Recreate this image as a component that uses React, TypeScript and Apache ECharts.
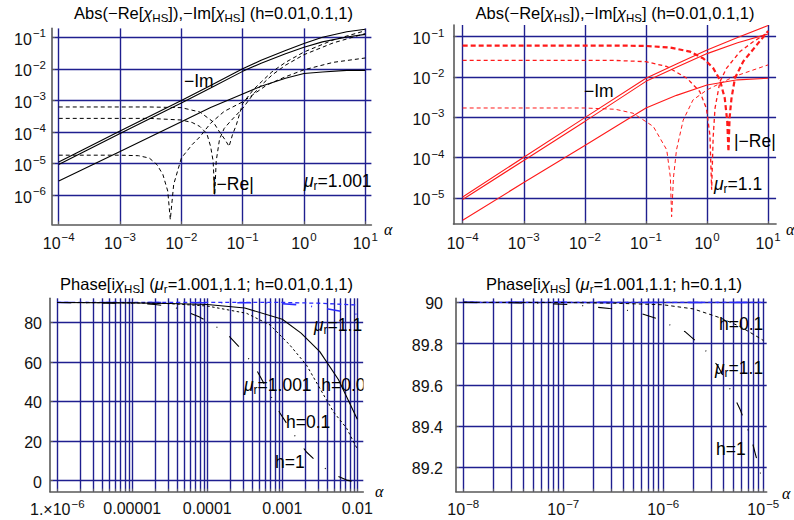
import React, { useEffect, useRef } from "react";
import * as echarts from "echarts";

const FONT = "'Liberation Sans', Arial, Helvetica, sans-serif";
const SERIF = "'Liberation Serif', 'DejaVu Serif', serif";
const GRID_C = "#1f1f8f";
const AXIS_C = "#5a5a5a";
const RED = "#ff1a1a";
const BLUE = "#2a2aff";
const BLACK = "#000000";

// ---------------- Panel 1 : mu_r = 1.001 (|-Re| dashed, -Im solid) ----------------
const p1ImAlpha = [1e-4, 1e-3, 1e-2, 3e-2, 0.1, 0.2, 0.5, 1, 2, 5, 10];
const p1ImA = [1.12e-5, 1.07e-4, 1.0e-3, 2.95e-3, 1.0e-2, 1.86e-2, 3.8e-2, 6.3e-2, 0.1, 0.148, 0.178];
const p1ImB = [9.3e-6, 8.9e-5, 8.3e-4, 2.45e-3, 8.3e-3, 1.51e-2, 3.0e-2, 4.8e-2, 7.1e-2, 0.102, 0.123];
const p1ImC = [2.8e-6, 2.4e-5, 2.1e-4, 6.0e-4, 1.6e-3, 2.8e-3, 5.0e-3, 7.1e-3, 7.9e-3, 8.9e-3, 8.9e-3];

const p1Re1Alpha = [1e-4, 3e-3, 1e-2, 2e-2, 3.3e-2, 4.2e-2, 5.2e-2, 6e-2, 6.8e-2, 7.9e-2, 0.1, 0.15, 0.2, 0.3, 0.5, 1, 3, 10];
const p1Re1 = [6.2e-4, 6.2e-4, 5.9e-4, 4.3e-4, 2.1e-4, 1.0e-4, 5.6e-5, 3.5e-5, 8e-5, 1.7e-4, 8e-4, 2.2e-3, 3.8e-3, 8e-3, 1.6e-2, 3.4e-2, 8.2e-2, 0.16];

const p1Re2Alpha = [1e-4, 3e-3, 1e-2, 1.5e-2, 2e-2, 2.6e-2, 3.0e-2, 3.3e-2, 3.5e-2, 3.7e-2, 4.2e-2, 5e-2, 6.2e-2, 0.1, 0.15, 0.2, 0.3, 0.5, 1, 3, 10];
const p1Re2 = [2.7e-4, 2.7e-4, 2.4e-4, 2.0e-4, 1.5e-4, 9e-5, 3.5e-5, 1.2e-5, 1.0e-6, 1.2e-5, 6e-5, 1.3e-4, 2.1e-4, 5.6e-4, 1.6e-3, 3.0e-3, 6.3e-3, 1.3e-2, 2.8e-2, 6.6e-2, 0.13];

const p1Re3Alpha = [1e-4, 1e-3, 2e-3, 3e-3, 4e-3, 5e-3, 6e-3, 6.6e-3, 7.5e-3, 1e-2, 1.5e-2, 2e-2, 3e-2, 5e-2, 0.1, 0.25, 0.5, 1, 3, 10];
const p1Re3 = [1.85e-5, 1.85e-5, 1.78e-5, 1.5e-5, 9.3e-6, 4.5e-6, 1.35e-6, 1.7e-7, 2.2e-6, 1.5e-5, 4e-5, 7e-5, 1.9e-4, 4.5e-4, 9e-4, 3.1e-3, 5.6e-3, 9.3e-3, 1.6e-2, 2.2e-2];

// ---------------- Panel 2 : mu_r = 1.1 ----------------
const p2ImAlpha = [1e-4, 1e-3, 1e-2, 0.1, 0.316, 1, 3.16, 10];
const p2ImA = [1.05e-5, 1.02e-4, 9.8e-4, 9.3e-3, 2.1e-2, 4.7e-2, 9.5e-2, 0.19];
const p2ImB = [9.1e-6, 8.5e-5, 7.9e-4, 7.8e-3, 1.74e-2, 3.8e-2, 7.1e-2, 0.117];
const p2ImC = [2.8e-6, 2.4e-5, 2.0e-4, 1.7e-3, 3.5e-3, 6.3e-3, 8.5e-3, 9.3e-3];

const p2Re1Alpha = [1e-4, 0.0316, 0.1, 0.251, 0.525, 0.871, 1.26, 1.62, 1.95, 2.14, 2.24, 2.34, 2.51, 2.86, 3.89, 6.46, 10];
const p2Re1 = [0.0603, 0.0603, 0.0589, 0.0537, 0.0427, 0.0288, 0.0166, 0.0085, 0.00295, 7.9e-4, 1.41e-4, 1e-3, 2.95e-3, 9.3e-3, 0.024, 0.0617, 0.138];

const p2Re2Alpha = [1e-4, 0.0316, 0.1, 0.219, 0.468, 0.759, 0.977, 1.114, 1.189, 1.259, 1.349, 1.622, 2.089, 3.467, 5.754, 9.44];
const p2Re2 = [0.0257, 0.0257, 0.024, 0.0182, 0.0093, 0.00437, 0.00166, 3.6e-4, 1.6e-5, 3.2e-4, 0.00166, 0.0076, 0.0166, 0.0427, 0.0759, 0.12];

const p2Re3Alpha = [1e-4, 0.01, 0.0316, 0.0617, 0.132, 0.219, 0.251, 0.263, 0.282, 0.316, 0.407, 0.589, 1, 2.75, 10];
const p2Re3 = [1.7e-3, 1.7e-3, 1.58e-3, 1.26e-3, 5.9e-4, 1.55e-4, 3.2e-5, 3.4e-6, 3.2e-5, 1.55e-4, 8.5e-4, 2.7e-3, 4.8e-3, 0.0102, 0.02];

// ---------------- Panel 3 : Phase, alpha 1e-6 .. 1e-2 ----------------
const p3SolidAlpha = [1e-6, 1e-5, 3.16e-5, 1e-4, 3.16e-4, 1e-3, 1.78e-3, 3.16e-3, 5.62e-3, 1e-2];
const p3Solid = [90, 89.8, 89.5, 89.0, 87.2, 81.5, 74.5, 65.2, 51, 31];
const p3DotAlpha = [1e-6, 1e-5, 3.16e-5, 1e-4, 3.35e-4, 6.9e-4, 1.26e-3, 2.1e-3, 3.16e-3, 4.8e-3, 7.2e-3, 1e-2];
const p3Dot = [90, 89.8, 89.4, 88.2, 84.5, 78.6, 68.5, 58.4, 46.7, 34.8, 26.5, 16];
const p3DashDotAlpha = [1e-6, 1e-5, 2e-5, 3.2e-5, 4.6e-5, 7.9e-5, 1.26e-4, 1.9e-4, 2.6e-4, 3.5e-4, 4.6e-4, 7.6e-4, 9.3e-4, 1.26e-3, 1.62e-3, 2.1e-3, 3.2e-3, 4.8e-3, 7.2e-3, 1e-2];
const p3DashDot = [90, 89.6, 89.0, 88.0, 86.4, 82.6, 78.3, 73.4, 68.0, 62.0, 55.5, 40.5, 34.2, 26.5, 20.2, 14.5, 8.0, 3.2, 0.3, -0.8];
const p3BlueDashAlpha = [1e-6, 1e-3, 3.16e-3, 1e-2];
const p3BlueDash = [90, 90, 89.6, 88.7];
const p3BlueDashDotAlpha = [1e-6, 6.3e-4, 1.58e-3, 2.57e-3, 4.27e-3, 7.24e-3, 1e-2];
const p3BlueDashDot = [90, 89.8, 88.9, 87.9, 86.6, 85.0, 84.0];

// ---------------- Panel 4 : Phase, alpha 1e-8 .. 1e-5 ----------------
const p4DotAlpha = [1e-8, 1e-7, 3.16e-7, 1e-6, 2e-6, 3.7e-6, 5.9e-6, 9.3e-6, 1e-5];
const p4Dot = [90, 89.999, 89.996, 89.988, 89.968, 89.925, 89.882, 89.825, 89.815];
const p4DashDotAlpha = [1e-8, 3.16e-8, 6.3e-8, 1.35e-7, 1.9e-7, 2.9e-7, 4.3e-7, 5.9e-7, 8.5e-7, 1.17e-6, 1.66e-6, 2.14e-6, 2.82e-6, 3.55e-6, 4.17e-6, 5.0e-6, 5.9e-6, 6.6e-6, 7.6e-6, 8.3e-6, 9.3e-6, 1e-5];
const p4DashDot = [90, 89.998, 89.995, 89.987, 89.979, 89.97, 89.962, 89.947, 89.922, 89.89, 89.857, 89.81, 89.753, 89.688, 89.623, 89.55, 89.478, 89.413, 89.34, 89.268, 89.18, 89.1];
const p4BlueAlpha = [1e-8, 1e-5];
const p4BlueDash = [90, 90];
const p4BlueDashDot = [90, 89.999];

// ---------------- ticks ----------------
const p1XExp = [-4, -3, -2, -1, 0, 1];
const p1YExp = [-6, -5, -4, -3, -2, -1];
const p2XExp = [-4, -3, -2, -1, 0, 1];
const p2YExp = [-5, -4, -3, -2, -1];
const p3XExp = [-6, -5, -4, -3, -2];
const p3XText = ["1.×10|−6", "0.00001", "0.0001", "0.001", "0.01"];
const p3YTicks = [0, 20, 40, 60, 80];
const p4XExp = [-8, -7, -6, -5];
const p4YTicks = [89.2, 89.4, 89.6, 89.8, 90];
const mantissas = [1, 2, 3, 4, 5, 6, 7, 8, 9];

const L = Math.log10;
const logLog = (xs: number[], ys: number[]) => xs.map((x, i) => [L(x), L(ys[i])]);
const logLin = (xs: number[], ys: number[]) => xs.map((x, i) => [L(x), ys[i]]);
const minorGrid = (exps: number[]) => {
  const out: number[] = [];
  exps.forEach((e, i) => {
    if (i === exps.length - 1) out.push(e);
    else mantissas.forEach((m) => out.push(e + L(m)));
  });
  return out;
};

const minusNum = (n: number) => (n < 0 ? "\u2212" + Math.abs(n) : String(n));
const powLabel = (v: number) => `{b|10}{s|${minusNum(Math.round(v))}}`;

const tickRich: any = {
  b: { fontFamily: FONT, fontSize: 16, color: "#111", verticalAlign: "bottom" },
  s: { fontFamily: FONT, fontSize: 11.5, color: "#111", verticalAlign: "top", padding: [0, 0, 8, 1] },
  p: { fontFamily: FONT, fontSize: 16, color: "#111", verticalAlign: "bottom", padding: [3, 0, 0, 0] },
};

const mkAxis = (gi: number, min: number, max: number, ticks: number[], labels: number[], fmt: any, margin: number) => ({
  type: "value",
  gridIndex: gi,
  min,
  max,
  axisLine: { show: true, onZero: false, lineStyle: { color: AXIS_C, width: 1.6 } },
  axisTick: { show: true, inside: true, length: 3, customValues: ticks, lineStyle: { color: AXIS_C } },
  axisLabel: { show: true, customValues: labels, formatter: fmt, rich: tickRich, margin, color: "#111", fontFamily: FONT, fontSize: 16 },
  splitLine: { show: true, lineStyle: { color: GRID_C, width: 1.4 } },
});

const line = (gi: number, data: number[][], color: string, width: number, type: any) => ({
  type: "line",
  xAxisIndex: gi,
  yAxisIndex: gi,
  data,
  symbol: "none",
  showSymbol: false,
  silent: true,
  clip: true,
  lineStyle: { color, width, type },
  z: 3,
});

const DASH = [4, 3];
const DOT = [2.5, 2.5];
const DASHDOT = [14, 15, 1, 15];

const labRich: any = {
  t: { fontFamily: FONT, fontSize: 17.5, color: "#000", verticalAlign: "top" },
  i: { fontFamily: FONT, fontSize: 17.5, fontStyle: "italic", color: "#000", verticalAlign: "top" },
  sub: { fontFamily: FONT, fontSize: 12, color: "#000", verticalAlign: "bottom", padding: [8, 0, 0, 0] },
};
const titleRich: any = {
  t: { fontFamily: FONT, fontSize: 16.5, color: "#000", verticalAlign: "top" },
  i: { fontFamily: FONT, fontSize: 16.5, fontStyle: "italic", color: "#000", verticalAlign: "top" },
  sub: { fontFamily: FONT, fontSize: 11.5, color: "#000", verticalAlign: "bottom", padding: [7, 0, 0, 0] },
};

const txt = (x: number, y: number, text: string, rich: any, align = "left") => ({
  type: "text",
  x,
  y,
  z: 10,
  silent: true,
  style: { text, rich, align, verticalAlign: "middle", fill: "#000" },
});

const chiTitle = "{t|Abs(−Re[}{i|χ}{sub|HS}{t|]),−Im[}{i|χ}{sub|HS}{t|] (h=0.01,0.1,1)}";

export default function App() {
  const ref = useRef<HTMLDivElement>(null);
  useEffect(() => {
    if (!ref.current) return;
    const chart = echarts.init(ref.current, undefined, { renderer: "svg" });

    const p3Fmt = (v: number) => {
      const idx = p3XExp.indexOf(Math.round(v));
      const s = p3XText[idx] || "";
      if (s.indexOf("|") >= 0) {
        const [a, b] = s.split("|");
        return `{b|${a}}{s|${b}}`;
      }
      return `{p|${s}}`;
    };
    const p3YFmt = (v: number) => `{p|${Math.round(v)}}`;
    const p4YFmt = (v: number) => `{p|${Math.abs(v - 90) < 1e-9 ? "90" : v.toFixed(1)}}`;

    const option: any = {
      animation: false,
      backgroundColor: "#ffffff",
      grid: [
        { left: 52, top: 28.4, width: 319.4, height: 195.9 },
        { left: 453.5, top: 25, width: 322.6, height: 199 },
        { left: 50, top: 298.3, width: 313.3, height: 193.4 },
        { left: 456, top: 298.4, width: 310.7, height: 193.3 },
      ],
      xAxis: [
        mkAxis(0, -4.11, 1.1, p1XExp, p1XExp, powLabel, 7),
        mkAxis(1, -4.15, 1.13, p2XExp, p2XExp, powLabel, 7),
        mkAxis(2, -6.097, -1.92, minorGrid(p3XExp), p3XExp, p3Fmt, 6),
        mkAxis(3, -8.073, -4.966, minorGrid(p4XExp), p4XExp, powLabel, 6),
      ],
      yAxis: [
        mkAxis(0, -6.92, -0.7215, p1YExp, p1YExp, powLabel, 6),
        mkAxis(1, -5.648, -0.71, p2YExp, p2YExp, powLabel, 9),
        mkAxis(2, -5.56, 92.1, p3YTicks, p3YTicks, p3YFmt, 8),
        mkAxis(3, 89.082, 90.019, p4YTicks, p4YTicks, p4YFmt, 13),
      ],
      series: [
        line(0, logLog(p1ImAlpha, p1ImA), BLACK, 1.1, "solid"),
        line(0, logLog(p1ImAlpha, p1ImB), BLACK, 1.1, "solid"),
        line(0, logLog(p1ImAlpha, p1ImC), BLACK, 1.1, "solid"),
        line(0, logLog(p1Re1Alpha, p1Re1), BLACK, 1, DASH),
        line(0, logLog(p1Re2Alpha, p1Re2), BLACK, 1, DASH),
        line(0, logLog(p1Re3Alpha, p1Re3), BLACK, 1, DASH),

        line(1, logLog(p2ImAlpha, p2ImA), RED, 1.1, "solid"),
        line(1, logLog(p2ImAlpha, p2ImB), RED, 1.1, "solid"),
        line(1, logLog(p2ImAlpha, p2ImC), RED, 1.1, "solid"),
        line(1, logLog(p2Re1Alpha, p2Re1), RED, 2.2, [5, 3]),
        line(1, logLog(p2Re2Alpha, p2Re2), RED, 1.3, DASH),
        line(1, logLog(p2Re3Alpha, p2Re3), RED, 1, DASH),

        line(2, logLin(p3BlueDashAlpha, p3BlueDash), BLUE, 1.3, DASH),
        line(2, logLin(p3BlueDashDotAlpha, p3BlueDashDot), BLUE, 1.6, DASHDOT),
        line(2, logLin(p3SolidAlpha, p3Solid), BLACK, 1.1, "solid"),
        line(2, logLin(p3DotAlpha, p3Dot), BLACK, 1, DOT),
        line(2, logLin(p3DashDotAlpha, p3DashDot), BLACK, 1.1, DASHDOT),

        line(3, logLin(p4BlueAlpha, p4BlueDash), BLUE, 1.3, DASH),
        line(3, logLin(p4BlueAlpha, p4BlueDashDot), BLUE, 1.6, DASHDOT),
        line(3, logLin(p4DotAlpha, p4Dot), BLACK, 1, [3.5, 3]),
        line(3, logLin(p4DashDotAlpha, p4DashDot), BLACK, 1.1, DASHDOT),
      ],
      graphic: [
        txt(213.5, 14, chiTitle, titleRich, "center"),
        txt(615, 14, chiTitle, titleRich, "center"),
        txt(206.5, 285, "{t|Phase[i}{i|χ}{sub|HS}{t|] (}{i|μ}{sub|r}{t|=1.001,1.1; h=0.01,0.1,1)}", titleRich, "center"),
        txt(614, 285, "{t|Phase[i}{i|χ}{sub|HS}{t|] (}{i|μ}{sub|r}{t|=1.001,1.1; h=0.1,1)}", titleRich, "center"),

        txt(184, 81, "{t|−Im}", labRich),
        txt(212, 184, "{t||−Re|}", labRich),
        txt(304, 182, "{i|μ}{sub|r}{t|=1.001}", labRich),
        txt(584, 91, "{t|−Im}", labRich),
        txt(734, 141, "{t||−Re|}", labRich),
        txt(714, 185, "{i|μ}{sub|r}{t|=1.1}", labRich),

        txt(314, 326, "{i|μ}{sub|r}{t|=1.1}", labRich),
        txt(244, 386, "{i|μ}{sub|r}{t|=1.001  h=0.01}", labRich),
        txt(286, 422, "{t|h=0.1}", labRich),
        txt(275, 462, "{t|h=1}", labRich),
        { type: "rect", z: 20, silent: true, shape: { x: 363.5, y: 312, width: 14, height: 90 }, style: { fill: "#ffffff" } },

        txt(719, 324, "{t|h=0.1}", labRich),
        txt(715, 369, "{i|μ}{sub|r}{t|=1.1}", labRich),
        txt(716, 449, "{t|h=1}", labRich),

        { type: "text", x: 384, y: 229, z: 10, style: { text: "α", font: `italic 16px ${SERIF}`, fill: "#000", verticalAlign: "middle" } },
        { type: "text", x: 786, y: 229, z: 10, style: { text: "α", font: `italic 16px ${SERIF}`, fill: "#000", verticalAlign: "middle" } },
        { type: "text", x: 375, y: 491, z: 10, style: { text: "α", font: `italic 16px ${SERIF}`, fill: "#000", verticalAlign: "middle" } },
        { type: "text", x: 782, y: 493, z: 10, style: { text: "α", font: `italic 16px ${SERIF}`, fill: "#000", verticalAlign: "middle" } },
      ],
    };
    chart.setOption(option);
    return () => chart.dispose();
  }, []);
  return (
    <div
      ref={ref}
      style={{ position: "absolute", left: 0, top: 0, width: 794, height: 520, background: "#fff" }}
    />
  );
}
